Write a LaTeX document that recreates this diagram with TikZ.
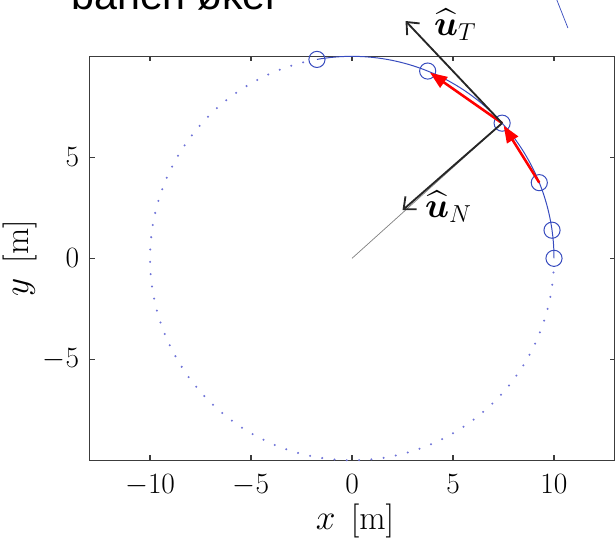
\documentclass[tikz,border=0pt]{standalone}
\usepackage{amsmath}
\usepackage{fontspec}
\newfontfamily\titlefont{Liberation Sans}
\usepackage{xcolor}
\definecolor{pathblue}{RGB}{55,75,190}
\definecolor{dotblue}{RGB}{110,115,215}
\definecolor{framegray}{RGB}{60,60,60}
\usetikzlibrary{arrows.meta,positioning,calc}

\begin{document}
\begin{tikzpicture}[x=0.5cm, y=0.5cm,
  frame/.style={draw=framegray, line width=0.8pt},
  lbl/.style={font=\fontsize{22}{26}\selectfont, inner sep=0pt},
  axlbl/.style={font=\fontsize{24}{28}\selectfont, inner sep=0pt},
  marker/.style={circle, draw=pathblue, line width=0.7pt, minimum size=0.4cm, inner sep=0pt},
  velarr/.style={draw=red, line width=1.8pt, shorten >=2pt,
                 -{Triangle[length=12pt,width=9pt]}},
  unitarr/.style={draw=black!85, line width=1.3pt,
                  -{Straight Barb[length=7pt,width=12pt]}}
]
  \useasboundingbox (-17.43,-13.94) rectangle (13.07,12.79);

  % title, cut off at the top
  \node[font=\titlefont\fontsize{29}{34}\selectfont, anchor=base west, inner sep=0pt]
    (title) at (-13.91,12.3) {banen øker};
  \coordinate (s1) at (9.9,13.4);
  \coordinate (s2) at (10.69,11.4);
  \draw[pathblue, line width=0.5pt] (s1) -- (s2);

  % axes box with ticks
  \draw[frame] (-13,-10) rectangle (13,10);
  \foreach \x [count=\i] in {-10,-5,0,5,10} {
    \draw[frame] (\x,-10) -- ++(0,0.25);
    \draw[frame] (\x,10) -- ++(0,-0.25);
    \node[lbl, anchor=base] (xt\i) at (\x,-11.62) {$\x$};
  }
  \foreach \y [count=\i] in {-5,0,5} {
    \draw[frame] (-13,\y) -- ++(0.25,0);
    \draw[frame] (13,\y) -- ++(-0.25,0);
    \node[lbl, anchor=east] (yt\i) at (-13.5,\y) {$\y$};
  }
  \node[axlbl, anchor=base] (xlab) at (0.15,-13.45) {$x$\hspace{0.45em}[m]};
  \node[axlbl, rotate=90, anchor=base] (ylab) at (-16.04,0) {$y$\hspace{0.45em}[m]};

  % circle: dotted rest, solid travelled part
  \foreach \a in {104,107.5,...,357} {
    \fill[dotblue] (\a:10) circle (0.8pt);
  }
  \draw[pathblue, line width=0.7pt] (0:10) arc[start angle=0, end angle=100, radius=10];
  \foreach \a [count=\i] in {0,8,22,42,68,100} {
    \node[marker] (p\i) at (\a:10) {};
  }

  % velocity chords
  \draw[velarr] (p3.center) -- (p4.center);
  \draw[velarr] (p4.center) -- (p5.center);

  % unit vectors
  \coordinate (O) at (0,0);
  \coordinate (uT) at (2.65,11.75);
  \coordinate (uN) at (2.5,2.38);
  \draw[gray, line width=0.5pt] (O) -- (p4.center);
  \draw[unitarr] (p4.center) -- (uT);
  \draw[unitarr] (p4.center) -- (uN);
  \node[axlbl, anchor=base west] (uTlbl) at (4.05,11.05) {$\widehat{\boldsymbol{u}}_T$};
  \node[axlbl, anchor=base west] (uNlbl) at (3.6,2.04) {$\widehat{\boldsymbol{u}}_N$};
\end{tikzpicture}
\end{document}
